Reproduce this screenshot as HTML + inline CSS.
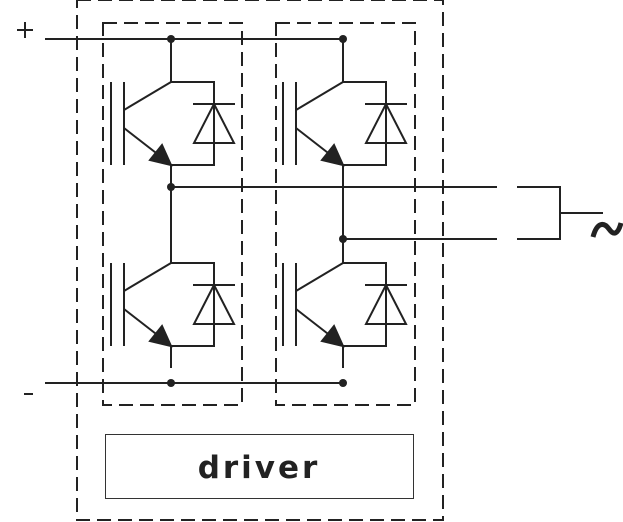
<!DOCTYPE html>
<html><head><style>html,body{margin:0;padding:0;background:#fff}svg{display:block}</style></head>
<body>
<svg width="623" height="522" viewBox="0 0 623 522" xmlns="http://www.w3.org/2000/svg">
<defs>
<g id="t" stroke="#222" stroke-width="2" fill="none">
  <line x1="171" y1="0" x2="171" y2="43"/>
  <polyline points="171,43 214,43 214,126 171,126"/>
  <line x1="171" y1="126" x2="171" y2="148"/>
  <line x1="193" y1="65" x2="235" y2="65"/>
  <polygon points="214,65 194,104 234,104"/>
  <line x1="111" y1="43" x2="111" y2="126"/>
  <line x1="124" y1="43" x2="124" y2="126"/>
  <line x1="124" y1="71" x2="171" y2="43"/>
  <line x1="124" y1="89" x2="160" y2="117"/>
  <polygon points="171,126 150,121 162,106" fill="#222"/>
</g>
</defs>
<g fill="none" stroke="#222" stroke-width="2" stroke-dasharray="14,7">
  <rect x="77" y="0" width="366" height="520"/>
  <rect x="103" y="23" width="139" height="382"/>
  <rect x="276" y="23" width="139" height="382"/>
</g>
<use href="#t" transform="translate(0,39)"/>
<use href="#t" transform="translate(0,220)"/>
<use href="#t" transform="translate(172,39)"/>
<use href="#t" transform="translate(172,220)"/>
<g stroke="#222" stroke-width="2" fill="none">
  <line x1="171" y1="165" x2="171" y2="263"/>
  <line x1="343" y1="165" x2="343" y2="263"/>
  <line x1="45" y1="39" x2="343" y2="39"/>
  <line x1="45" y1="383" x2="343" y2="383"/>
  <line x1="171" y1="187" x2="497" y2="187"/>
  <line x1="343" y1="239" x2="497" y2="239"/>
  <polyline points="517,187 560,187 560,239 517,239"/>
  <line x1="560" y1="213" x2="603" y2="213"/>
  <line x1="17" y1="30" x2="33" y2="30"/>
  <line x1="25" y1="22" x2="25" y2="38"/>
  <line x1="24" y1="394" x2="33" y2="394"/>
</g>
<g fill="#222">
  <circle cx="171" cy="39" r="4"/><circle cx="343" cy="39" r="4"/>
  <circle cx="171" cy="187" r="4"/><circle cx="343" cy="239" r="4"/>
  <circle cx="171" cy="383" r="4"/><circle cx="343" cy="383" r="4"/>
</g>
<path d="M593,237 C597,222 604,222 609,229 C614,236 618,234 621,223" fill="none" stroke="#222" stroke-width="5"/>
<rect x="105.5" y="434.5" width="308" height="64" fill="none" stroke="#333" stroke-width="1"/>
<text x="259" y="478" font-family="DejaVu Sans, sans-serif" font-size="31" font-weight="bold" letter-spacing="3" fill="#222" text-anchor="middle">driver</text>
</svg>
</body></html>
